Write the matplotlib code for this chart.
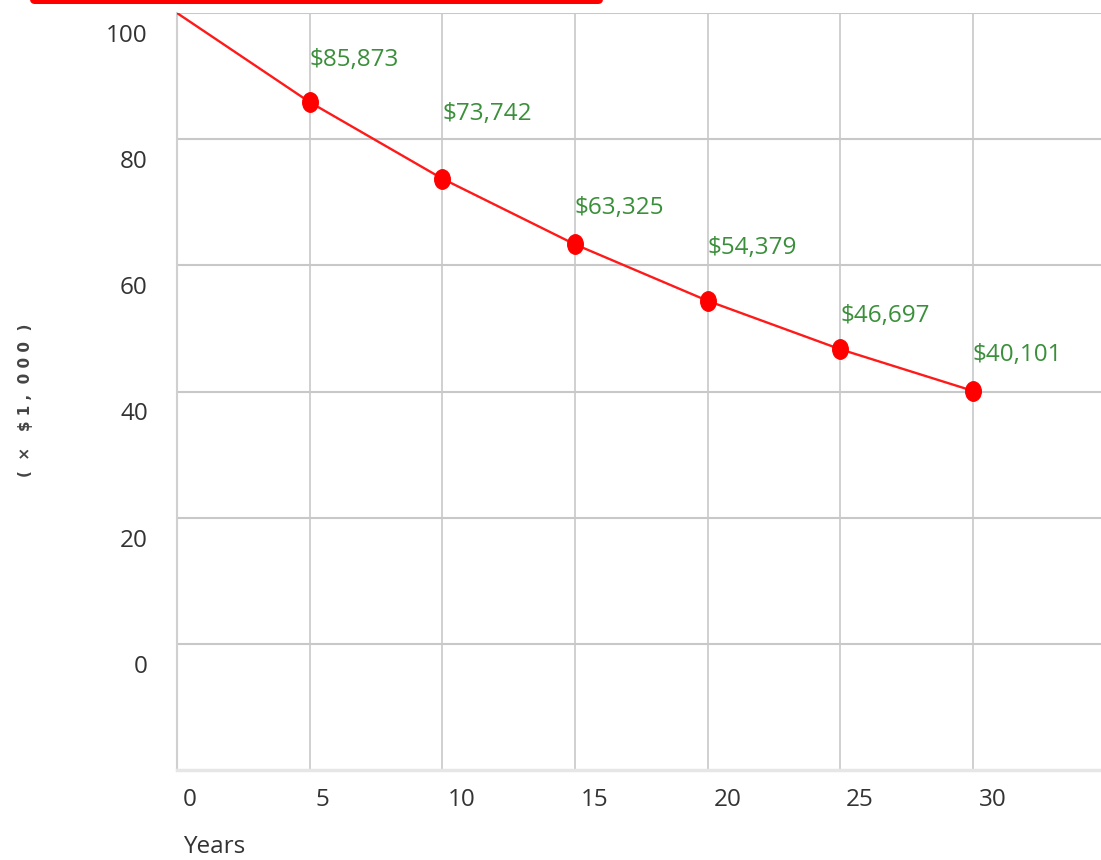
import matplotlib
matplotlib.use("Agg")
import matplotlib.pyplot as plt
import matplotlib.transforms as mtransforms
from matplotlib.patches import FancyBboxPatch
from matplotlib.path import Path
import numpy as np

# data (value in $1,000)
years = [0, 5, 10, 15, 20, 25, 30]
value_k = [100, 85.873, 73.742, 63.325, 54.379, 46.697, 40.101]
point_years = [5, 10, 15, 20, 25, 30]
point_values = [85.873, 73.742, 63.325, 54.379, 46.697, 40.101]
point_labels = ["$85,873", "$73,742", "$63,325", "$54,379", "$46,697", "$40,101"]
x_ticks = [0, 5, 10, 15, 20, 25, 30]
y_ticks = [0, 20, 40, 60, 80, 100]

# label lift above each point, in pixels (the source staggers them)
label_lift = [42, 65, 36, 53, 33, 36]

plt.rcParams["font.family"] = ["Open Sans", "DejaVu Sans"]

W, H = 1101, 860
fig = plt.figure(figsize=(W / 100, H / 100), dpi=100)
ax = fig.add_axes([177 / W, (H - 770) / H, (W - 177) / W, (770 - 13) / H])

ax.set_xlim(0, 34.83)
ax.set_ylim(-20, 100)

grid_c = "#c8c8c8"
for x in x_ticks:
    ax.axvline(x, color=grid_c, lw=1.2, zorder=1)
for y in y_ticks:
    ax.axhline(y, color=grid_c, lw=1.5, zorder=1)

for side in ("top", "right"):
    ax.spines[side].set_visible(False)
ax.spines["left"].set_color("#d0d0d0")
ax.spines["left"].set_linewidth(1.5)
ax.spines["bottom"].set_color("#e6e6e6")
ax.spines["bottom"].set_linewidth(2.5)

# slightly tall oval marker like the source
circ = Path.unit_circle()
oval = Path(circ.vertices * np.array([0.8, 1.0]), circ.codes)

ax.plot(years, value_k, color="#ff1a1a", lw=1.7, zorder=3)
ax.plot(point_years, point_values, ls="none", marker=oval, ms=14,
        color="#ff0000", zorder=4)

for xv, yv, txt, lift in zip(point_years, point_values, point_labels, label_lift):
    ax.annotate(txt, (xv, yv), xytext=(0, lift * 0.72), textcoords="offset points",
                ha="left", va="center", fontsize=17.5, color="#3a8f3a", zorder=5)

ax.set_xticks(x_ticks)
ax.set_yticks(y_ticks)
ax.tick_params(length=0, labelsize=17.5, labelcolor="#333333")
ax.tick_params(axis="y", pad=21)
ax.tick_params(axis="x", pad=13)

dx = mtransforms.ScaledTranslation(6 / 100, 0, fig.dpi_scale_trans)
for lbl in ax.get_xticklabels():
    lbl.set_ha("left")
    lbl.set_transform(lbl.get_transform() + dx)
dy = mtransforms.ScaledTranslation(0, -20 / 100, fig.dpi_scale_trans)
for lbl in ax.get_yticklabels():
    lbl.set_transform(lbl.get_transform() + dy)

fig.text(183 / W, 1 - 847 / H, "Years", fontsize=17.5, color="#333333",
         ha="left", va="center")
fig.text(26 / W, 1 - 400 / H, "(  ×   $ 1 ,  0 0 0  )", rotation=90, fontsize=11,
         fontweight="bold", color="#444444", ha="center", va="center",
         family=["DejaVu Sans"])

# clipped red banner at the very top
banner = FancyBboxPatch((30, H - 4), 573, 30, boxstyle="round,pad=0,rounding_size=5",
                        transform=None, facecolor="#ff0000", edgecolor="none")
fig.patches.append(banner)

fig.savefig("out.png", dpi=100)
